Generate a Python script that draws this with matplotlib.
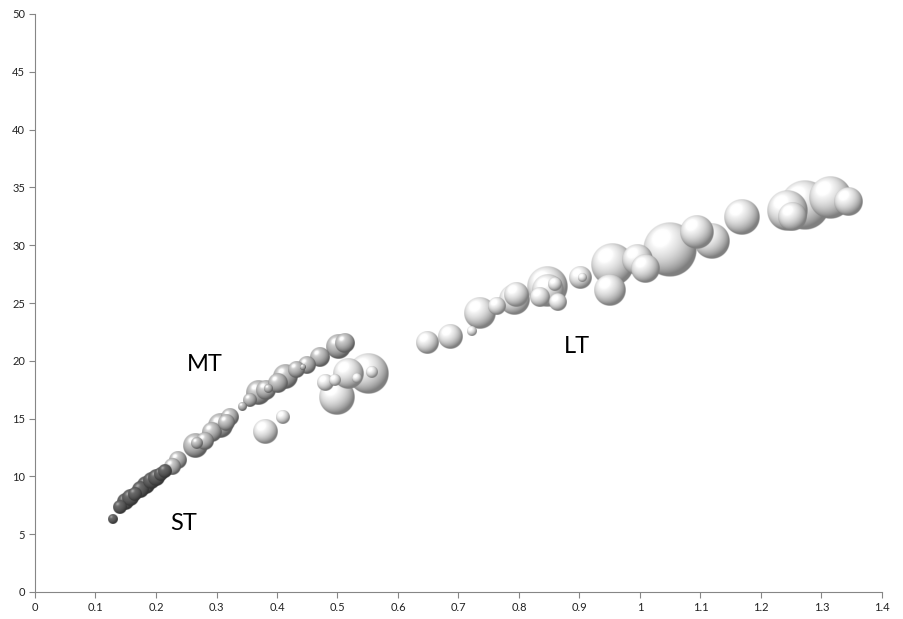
import numpy as np
import matplotlib
matplotlib.use("Agg")
import matplotlib.pyplot as plt

plt.rcParams['font.family'] = ['Lato', 'DejaVu Sans']

# bubble data: x, y, bubble size
st_x = [0.129, 0.140, 0.149, 0.157, 0.165, 0.174, 0.183, 0.192, 0.200, 0.208, 0.215]
st_y = [6.3, 7.35, 7.8, 8.15, 8.5, 8.8, 9.25, 9.6, 9.9, 10.2, 10.5]
st_s = [3.4, 6.7, 8.8, 8.8, 6.7, 8.8, 11.1, 8.8, 8.8, 6.7, 6.7]

mt_x = [0.226, 0.236, 0.264, 0.268, 0.281, 0.293, 0.306, 0.316, 0.322, 0.342, 0.355,
        0.369, 0.382, 0.385, 0.402, 0.413, 0.431, 0.443, 0.450, 0.471, 0.501, 0.512]
mt_y = [10.8, 11.4, 12.6, 12.9, 13.1, 13.8, 14.4, 14.6, 15.1, 16.0, 16.6,
        17.2, 17.5, 17.6, 18.1, 18.6, 19.2, 19.5, 19.6, 20.3, 21.2, 21.5]
mt_s = [8.8, 11.1, 19.8, 4.9, 11.1, 13.7, 19.8, 8.8, 11.1, 2.2, 6.7,
        19.8, 13.7, 2.2, 13.7, 19.8, 8.8, 1.2, 11.1, 13.7, 19.8, 13.7]

lt_x = [0.380, 0.410, 0.499, 0.479, 0.496, 0.517, 0.550, 0.532, 0.557,
        0.648, 0.686, 0.722, 0.736, 0.764, 0.792, 0.795, 0.835, 0.846, 0.848, 0.860,
        0.864, 0.901, 0.904, 0.950, 0.954, 0.995, 1.008, 1.050, 1.094, 1.119,
        1.169, 1.243, 1.251, 1.273, 1.314, 1.344]
lt_y = [13.8, 15.1, 16.9, 18.1, 18.3, 18.9, 18.9, 18.5, 19.0,
        21.5, 22.1, 22.6, 24.1, 24.7, 25.3, 25.7, 25.5, 26.4, 26.1, 26.6,
        25.1, 27.2, 27.2, 26.1, 28.3, 28.7, 27.9, 29.6, 31.1, 30.4,
        32.4, 33.0, 32.4, 33.5, 34.1, 33.7]
lt_s = [19.8, 6.7, 44.4, 8.8, 4.9, 30.9, 54.9, 3.4, 4.9,
        16.6, 19.8, 3.4, 35.1, 11.1, 30.9, 19.8, 13.7, 54.9, 35.1, 6.7,
        11.1, 16.6, 2.2, 35.1, 60.5, 30.9, 26.9, 100.0, 39.6, 44.4,
        44.4, 54.9, 26.9, 85.7, 60.5, 26.9]

labels = ['ST', 'MT', 'LT']
label_x = [0.246, 0.281, 0.896]
label_y = [5.9, 19.7, 21.2]


def sphere(base, amb, spec_amt, n=128):
    u, v = np.meshgrid(np.linspace(-1, 1, n), np.linspace(1, -1, n))
    rr = np.sqrt(u ** 2 + v ** 2)
    w = np.sqrt(np.clip(1 - rr ** 2, 0, 1))
    L = np.array([-0.35, 0.45, 0.82])
    L = L / np.linalg.norm(L)
    diff = np.clip(u * L[0] + v * L[1] + w * L[2], 0, 1)
    spec = diff ** 30
    val = base * (amb + (1 - amb) * diff) + spec_amt * spec
    val = np.clip(val, 0, 1)
    img = np.zeros((n, n, 4))
    img[..., 0] = val
    img[..., 1] = val
    img[..., 2] = val
    img[..., 3] = np.clip((1 - rr) * n / 2.5, 0, 1)
    return img


fig = plt.figure(figsize=(9.04, 6.19), dpi=100)
ax = fig.add_axes([35 / 904, 27 / 619, 847 / 904, 578 / 619])
ax.set_xlim(0, 1.4)
ax.set_ylim(0, 50)

sprites = {'ST': sphere(0.42, 0.5, 0.25),
           'MT': sphere(0.82, 0.45, 0.3),
           'LT': sphere(1.0, 0.5, 0.2)}

bubbles = []
for name, xs, ys, ss in [('LT', lt_x, lt_y, lt_s), ('MT', mt_x, mt_y, mt_s), ('ST', st_x, st_y, st_s)]:
    for x, y, s in zip(xs, ys, ss):
        bubbles.append((s, x, y, name))
bubbles.sort(key=lambda b: -b[0])

inv = ax.transData.inverted()
for i, (s, x, y, name) in enumerate(bubbles):
    r = 2.7 * np.sqrt(s)  # radius in pixels
    cx, cy = ax.transData.transform((x, y))
    x0, y0 = inv.transform((cx - r, cy - r))
    x1, y1 = inv.transform((cx + r, cy + r))
    ax.imshow(sprites[name], extent=[x0, x1, y0, y1], aspect='auto',
              interpolation='bilinear', zorder=2 + i * 0.001)

ax.set_xlim(0, 1.4)
ax.set_ylim(0, 50)

for t, x, y in zip(labels, label_x, label_y):
    ax.text(x, y, t, fontsize=17, ha='center', va='center', color='black', zorder=5)

ax.set_xticks(np.arange(0, 1.41, 0.1))
ax.set_xticklabels(['0', '0.1', '0.2', '0.3', '0.4', '0.5', '0.6', '0.7', '0.8', '0.9',
                    '1', '1.1', '1.2', '1.3', '1.4'])
ax.set_yticks(np.arange(0, 51, 5))
ax.tick_params(direction='out', length=4, width=0.8, color='#868686',
               labelsize=8, labelcolor='#222222', pad=3)
for side in ['top', 'right']:
    ax.spines[side].set_visible(False)
for side in ['left', 'bottom']:
    ax.spines[side].set_color('#868686')
    ax.spines[side].set_linewidth(0.8)

fig.savefig('out.png', dpi=100)
